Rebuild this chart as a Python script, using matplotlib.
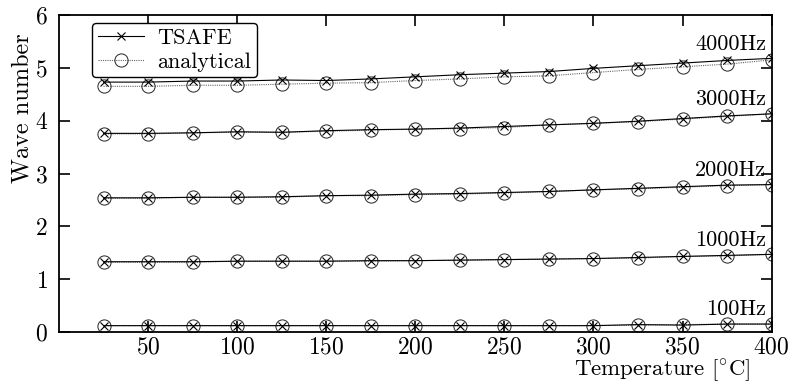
import matplotlib
matplotlib.use("Agg")
import matplotlib.pyplot as plt
import numpy as np

plt.rcParams['font.family'] = 'serif'
plt.rcParams['font.serif'] = ['cmr10', 'DejaVu Serif']
plt.rcParams['mathtext.fontset'] = 'cm'
plt.rcParams['axes.formatter.use_mathtext'] = True

# temperature points [C]
temp = [25, 50, 75, 100, 125, 150, 175, 200, 225, 250, 275, 300, 325, 350, 375, 400]

# wave numbers
tsafe_4000 = [4.73, 4.73, 4.75, 4.75, 4.77, 4.76, 4.79, 4.83, 4.87, 4.90, 4.93, 4.99, 5.04, 5.09, 5.14, 5.18]
anal_4000 = [4.65, 4.65, 4.67, 4.67, 4.69, 4.71, 4.72, 4.76, 4.79, 4.83, 4.85, 4.91, 4.97, 5.02, 5.07, 5.15]
tsafe_3000 = [3.76, 3.76, 3.77, 3.79, 3.78, 3.81, 3.83, 3.84, 3.86, 3.89, 3.92, 3.95, 3.99, 4.04, 4.09, 4.13]
anal_3000 = [3.75, 3.75, 3.77, 3.78, 3.78, 3.80, 3.82, 3.84, 3.85, 3.87, 3.92, 3.95, 3.98, 4.03, 4.08, 4.13]
tsafe_2000 = [2.54, 2.54, 2.55, 2.55, 2.56, 2.58, 2.59, 2.61, 2.62, 2.64, 2.66, 2.69, 2.72, 2.75, 2.78, 2.79]
anal_2000 = [2.53, 2.53, 2.55, 2.55, 2.55, 2.58, 2.58, 2.60, 2.61, 2.63, 2.66, 2.69, 2.71, 2.74, 2.77, 2.79]
tsafe_1000 = [1.33, 1.33, 1.33, 1.34, 1.34, 1.34, 1.35, 1.35, 1.36, 1.37, 1.38, 1.39, 1.41, 1.43, 1.45, 1.47]
anal_1000 = [1.32, 1.32, 1.32, 1.34, 1.34, 1.34, 1.34, 1.35, 1.36, 1.37, 1.38, 1.39, 1.40, 1.43, 1.44, 1.47]
tsafe_100 = [0.12, 0.12, 0.12, 0.12, 0.12, 0.12, 0.12, 0.12, 0.12, 0.12, 0.12, 0.12, 0.14, 0.13, 0.15, 0.15]
anal_100 = [0.12, 0.12, 0.12, 0.12, 0.12, 0.12, 0.12, 0.12, 0.12, 0.12, 0.12, 0.12, 0.13, 0.14, 0.15, 0.15]

freq_labels = ['4000Hz', '3000Hz', '2000Hz', '1000Hz', '100Hz']
tsafe_all = [tsafe_4000, tsafe_3000, tsafe_2000, tsafe_1000, tsafe_100]
anal_all = [anal_4000, anal_3000, anal_2000, anal_1000, anal_100]

fig = plt.figure(figsize=(7.89, 3.85), dpi=100)
ax = fig.add_axes([0.0748, 0.1377, 0.9032, 0.8233])

for k in range(len(freq_labels)):
    ax.plot(temp, tsafe_all[k], color='black', lw=0.8, marker='x', ms=6, mew=0.8,
            label='TSAFE' if k == 0 else None, zorder=3)
    ax.plot(temp, anal_all[k], color='#666666', lw=0.8, ls=(0, (1, 1)), marker='o', ms=9.5,
            mfc='none', mec='#222222', mew=0.7, label='analytical' if k == 0 else None, zorder=2)
    top = max(tsafe_all[k][-1], anal_all[k][-1])
    ax.text(397, top + 0.09, freq_labels[k], ha='right', va='bottom', fontsize=16)

ax.set_xlim(0, 400)
ax.set_ylim(0, 6)
ax.set_xticks([50, 100, 150, 200, 250, 300, 350, 400])
ax.set_yticks([0, 1, 2, 3, 4, 5, 6])
ax.tick_params(direction='in', length=8, width=1.2, top=True, right=True, labelsize=17)
ax.tick_params(axis='x', pad=3)
ax.tick_params(axis='y', pad=8)
for sp in ax.spines.values():
    sp.set_linewidth(1.3)

ax.set_ylabel('Wave number', fontsize=17.5)
ax.yaxis.set_label_coords(-0.051, 0.707)
ax.yaxis.label.set_verticalalignment('center')
ax.set_xlabel(r'Temperature [$^{\circ}$C]', fontsize=16.5)
ax.xaxis.set_label_coords(0.97, -0.079)
ax.xaxis.label.set_horizontalalignment('right')
ax.xaxis.label.set_verticalalignment('top')

leg = ax.legend(loc='upper left', bbox_to_anchor=(0.04, 0.99), fontsize=16, frameon=True,
                fancybox=True, edgecolor='black', framealpha=1, handlelength=2.1,
                borderpad=0.25, labelspacing=0.2, handletextpad=0.6, borderaxespad=0.2)
leg.get_frame().set_linewidth(1.0)

fig.savefig('out.png', dpi=100)
